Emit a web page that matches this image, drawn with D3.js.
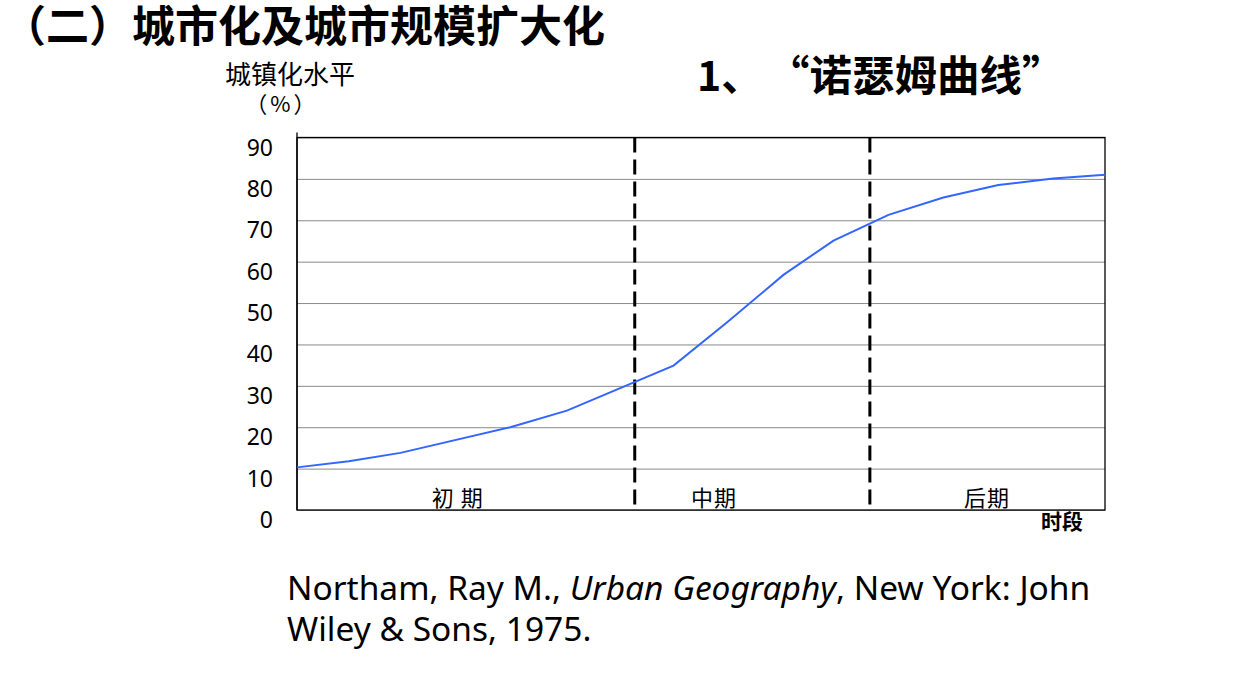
<!DOCTYPE html>
<html><head><meta charset="utf-8">
<script src="https://cdn.jsdelivr.net/npm/d3@7/dist/d3.min.js"></script>
<style>
html,body{margin:0;padding:0;background:#fff;}
svg{display:block;}
</style></head>
<body>
<svg id="chart" width="1250" height="687"></svg>
<script>
// ---- data ----
const yTicks = [0, 10, 20, 30, 40, 50, 60, 70, 80, 90];
const timeT = [0, 6.4, 12.8, 26.4, 33.4, 46.6, 53.2, 60.2, 66.4, 73.2, 80.0, 86.8, 93.6, 100];
const urbanization = [10.3, 11.8, 13.8, 20.0, 24.0, 34.9, 45.3, 56.8, 65.1, 71.3, 75.5, 78.5, 80.1, 81.0];
const phaseBounds = [41.8, 70.9];
const phaseNames = ["初 期", "中期", "后期"];
const phaseLabelT = [19.9, 51.6, 85.4];
const titleText = "（二）城市化及城市规模扩大化";
const subTitleNum = "1、";
const subTitleText = "“诺瑟姆曲线”";
const yTitle1 = "城镇化水平";
const yTitle2 = "（%）";
const xTitle = "时段";

const svg = d3.select("#chart");
svg.append("rect").attr("width",1250).attr("height",687).attr("fill","#fff");

const L = 297, R = 1105, T = 137.5, B = 510;
const x = d3.scaleLinear().domain([0,100]).range([L,R]);
const y = d3.scaleLinear().domain([0,90]).range([B,T]);

const cjk = "'Noto Sans CJK SC','Noto Sans',sans-serif";
const latin = "'Noto Sans','Open Sans',sans-serif";

// title
svg.append("text").attr("x",3).attr("y",42)
  .style("font-family",cjk).style("font-weight","700").style("font-size","43px")
  .attr("fill","#000").text(titleText);
svg.append("text").attr("x",697).attr("y",91)
  .style("font-family",cjk).style("font-weight","700").style("font-size","41px")
  .attr("fill","#000").text(subTitleNum);
svg.append("text").attr("x",767).attr("y",91)
  .style("font-family",cjk).style("font-weight","700").style("font-size","42.5px")
  .attr("fill","#000").text(subTitleText);

// y-axis title
svg.append("text").attr("x",290).attr("y",84).attr("text-anchor","middle")
  .style("font-family",cjk).style("font-size","26px").attr("fill","#000").text(yTitle1);
svg.append("text").attr("x",282).attr("y",112).attr("text-anchor","middle")
  .style("font-family",cjk).style("font-size","22px").style("letter-spacing","3px")
  .attr("fill","#000").text(yTitle2);

// gridlines
const gAxis = svg.append("g").attr("transform",`translate(${L},0)`)
  .call(d3.axisLeft(y).tickValues(yTicks).tickSize(-(R-L)).tickFormat(""));
gAxis.select(".domain").remove();
gAxis.selectAll(".tick line").attr("stroke","#8a8a8a").attr("stroke-width",1);

// tick labels
svg.append("g").selectAll("text").data(yTicks).join("text")
  .attr("x",273).attr("y",d=>y(d)+9).attr("text-anchor","end")
  .attr("dominant-baseline","central")
  .style("font-family",latin).style("font-size","23px").attr("fill","#000")
  .text(d=>d);

// frame
svg.append("rect").attr("x",L).attr("y",T).attr("width",R-L).attr("height",B-T)
  .attr("fill","none").attr("stroke","#000").attr("stroke-width",1.3);
svg.append("line").attr("x1",L).attr("x2",L).attr("y1",T-5).attr("y2",B)
  .attr("stroke","#000").attr("stroke-width",1.3);

// phase dashed lines
svg.append("g").selectAll("line").data(phaseBounds).join("line")
  .attr("x1",d=>x(d)).attr("x2",d=>x(d)).attr("y1",T).attr("y2",B-5)
  .attr("stroke","#000").attr("stroke-width",3).attr("stroke-dasharray","15,7");

// curve
const line = d3.line().x((d,i)=>x(timeT[i])).y(d=>y(d));
svg.append("path").datum(urbanization).attr("d",line)
  .attr("fill","none").attr("stroke","#3366ff").attr("stroke-width",2);

// phase labels
svg.append("g").selectAll("text").data(phaseNames).join("text")
  .attr("x",(d,i)=>x(phaseLabelT[i])).attr("y",496).attr("text-anchor","middle")
  .attr("dominant-baseline","central")
  .style("font-family",cjk).style("font-size","22px").style("letter-spacing","1px")
  .attr("fill","#000").text(d=>d);

// x title
svg.append("text").attr("x",1062).attr("y",520).attr("text-anchor","middle")
  .attr("dominant-baseline","central")
  .style("font-family",cjk).style("font-weight","700").style("font-size","21px")
  .attr("fill","#000").text(xTitle);

// citation
const cit = svg.append("text").attr("x",287).attr("y",600)
  .style("font-family",latin).style("font-size","33.5px").attr("fill","#000");
cit.append("tspan").text("Northam, Ray M., ");
cit.append("tspan").style("font-style","italic").text("Urban Geography");
cit.append("tspan").text(", New York: John");
svg.append("text").attr("x",287).attr("y",641)
  .style("font-family",latin).style("font-size","33.5px").attr("fill","#000")
  .text("Wiley & Sons, 1975.");
</script>
</body></html>
